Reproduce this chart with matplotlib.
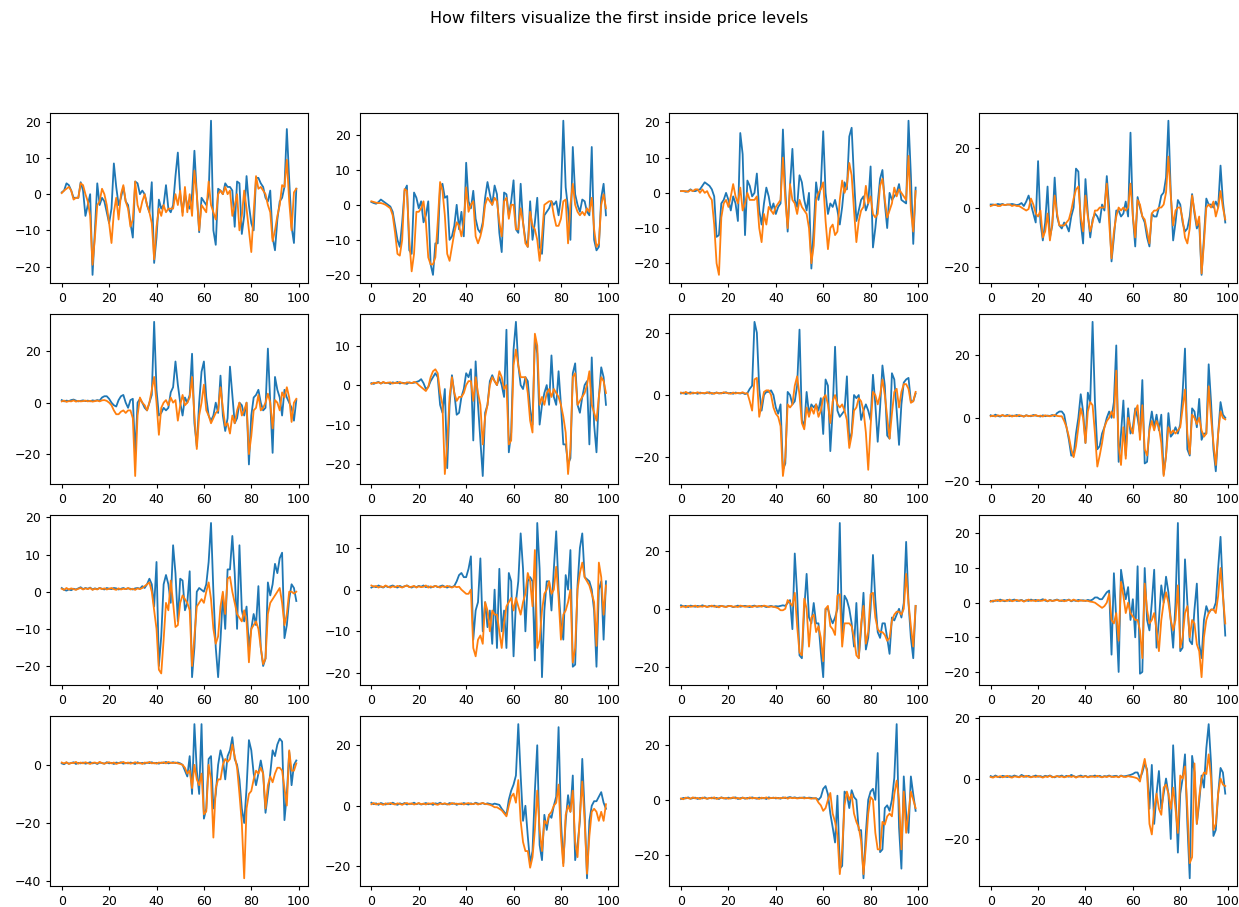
import numpy as np
import matplotlib
matplotlib.use("Agg")
import matplotlib.pyplot as plt
from matplotlib.ticker import MaxNLocator

title = "How filters visualize the first inside price levels"

# row 1
b01 = [0.5, 1, 3, 2.5, 1, -1, -1, -1, 3.3, 1,
       -6, -3, 0, -22.3, -10, 3, -3, -1, -2, -5,
       -8, -4, 8.5, 2, -3, -1, 2, -2, -3, -8,
       -12, 3.5, 3, 0, 1, 0, -3, -5, 3.3, -19,
       -12, -1.5, -4, -3, 2.5, -4, -5, -3, 5, 11.5,
       0, -5, 0, -3, -4, 0, 12, 0, -10.5, -1,
       -2, -3, 0, 20.3, -10, -14, 1.5, 1, 0, 3,
       2, 2, 1, -9, 3.5, 3, -11, -6, 5, -3,
       -8, -10, 4.5, 4.5, 3, 2, -1, -2, 1, -12,
       -15.5, -7, -2, -1, 2, 18, 4, -9, -13.5, 1.5]
o01 = [0.3, 1, 1.5, 2, 1, -1.5, -1, -1, 3, 2.5,
       0, -2, -6, -19.5, -12, -3, -2, 1.5, 0, -3,
       -8, -13.5, -5, -1, -7, 0, 2.5, -2, -4, -9,
       -7, 3.5, -3, -5, -2, 0, -3, -5, -8, -18,
       -9, -4, -6, -3, -5, -4, -4, -4, 0, -3,
       1, -6, 2, -5, 0, -6, 6.5, 0, -10, -3,
       -4, -5, 3.5, -3, -5, -7, 0, 1, 0, 2,
       0, 1, -6, -3, 0, -10, -6, 1, -4, -10,
       -16, -5, 5, 1.5, 2, 1, 0, -3, -5, -13,
       -10, -6, -3, 2.5, 2, 9.5, -2, -10, 0.5, 1.5]
b02 = [0.8, 0.5, 0.3, 0.8, 1.5, 1, 0.5, 0, -0.5, -2,
       -6, -10, -12, -5, 4, 5.5, -13, -14, 3.5, 2,
       -1, 1, -5, -3, 1, -17, -20, -11, -11, 5,
       6, 2, 2.5, -10, -9, -6, 0, -7, -2, -9,
       12, 1, -1, 4, -4, -7, -8, -5, 2, 6.5,
       3, 0, 5.5, 3, -8, -13.5, 3.5, 3, -3, 1,
       7, -7, -8, 6, -5, -10, -12, 1, -10, -5,
       2, -12, -14, -3, -2, -1, 1, 0, 1, -3,
       2, 24, 5, -1, -10, 16.5, 3, 0, -2, 1.5,
       1, -2, -3, 16.5, -10, -13, -12, 2, 6, -3]
o02 = [1, 0.8, 0.6, 0.5, 0.5, 0.3, 0, -0.5, -1, -3,
       -8, -14, -14.5, -10, 4.5, 4, -10, -19, -14, -2,
       -2, -1, 1, -5, -15, -17, -17, -15, -5, 6.5,
       4, -3, -14, -16, -12, -8, -5, -6, -9, -5,
       5, -2, 0, 1, -9, -11, -9, -6, 0, 2,
       1, 0, 2, 1, -5, -9, 1, 2, -4, 0,
       0, -7, -7, -1, -5, -11, -12, -2, -6, -7,
       -10, -16, -9, 0, 0.5, 1, 1, -3, -6, -6,
       -4, 1, 1.5, -11, 0, 6, 0, -2, -3, -2,
       -3, -1, -2, 2, -7, -12, -11, 0, 3, -1]
b03 = [0.5, 0.5, 0.3, 0.5, 1, 0.5, 0.5, 0.8, 1, 2,
       3, 2.5, 2, 1, -1, -12.5, -12, -3, -2, 0,
       -2, -5, -1, -3, -8, 17, 11, -12, 3.5, 2,
       -1, 0, 5.5, -5, -9, -3, 1.5, -1, -5, -3,
       -6, -4, -3, 18, 1, -11, 2, 12.5, -2, -4,
       5, 3, -2, -5, 0, -21.5, -10, 3, -2, 2,
       17.5, 0, -6, -3, -4, -2, -5, -9, -4, 3,
       1, 16, 18.5, 4, -8, -5, -2, -1, -5, -3,
       7.5, -15.5, -10, -3, 4, 6.5, -3, -10, 0, -2,
       -1, 0, 2.5, -2, -2.5, -3, 20.5, 5, -14.5, 1.5]
o03 = [0.5, 0.5, 0.5, 0.3, 0.8, 0.5, 1, 1, 0, 1,
       0, 0.5, -1, -2, -9, -20, -23.3, -7, -3, -2,
       -4, -1, 2.5, -1, -3, 1.5, -5, -3, 0, -2,
       -2, -2, -1, -10, -14, -6, -9, -4, -5, -6,
       -4, -3, -2, 10, -2, -10, 2.5, -2, -3, -6,
       -2, -4, -5, -6, -10, -20, -15, -2, 0, 1,
       3, -8, -16, -10, -9, -12, -11, -2, 3.5, 0,
       2, 8.5, 5, -5, -14, -8, -5, -4, 2, -3,
       -1, -6, -7, -6, 2, 4, -2, -7, -5, -3,
       1.5, -1, 1, 0, -1, -2, 10.5, -5, -11, 0.5]
b04 = [1, 1, 0.8, 1.2, 1, 1.2, 0.8, 1, 1, 1.2,
       1, 0.8, 1, 1.5, 0.5, 2, 4, 1, -2, -5,
       15.5, -5, -11, -5, 7, -10, -6, 10, -3, -6,
       -7, -5, -6, -8, -3, 0, 13, 12, -5, -12,
       9.5, -2, -10, -4, -2, -3, -5, 1, -1, 10.5,
       0, -18, -10, -1, -1, -3, -2, 2, -3, 25,
       -3, -13, 3.5, 0, -3, -5, -10, -13, -2, -3,
       -3, 0, 4, 5, 10, 29, 5, -11, -5, 2.5,
       1, -5, -8, -7, -3, 4.5, -2, -7, -5, -22.5,
       -10, 3, 1, 1, 0, 2, 0, 14, 2, -5]
o04 = [0.5, 0.8, 1, 0.5, 0.5, 1, 0.8, 1, 1, 0.5,
       0.8, 0.5, 0.5, 0, -0.5, -1, -0.5, 3, 1, -2,
       -3, -1, -10, -8, -2, -11, -5, 4, -2, -6,
       -6, -6, -5, -4, -1, 3, 6, 7, -3, -8,
       4, -3, -8, -5, -1, -1, 0, 0, 0, 8,
       -5, -17, -8, -3, 0, -1, 0, -1, 0, 8,
       -3, -10, 2.5, 1, -3, -4, -8, -12, -2, -1,
       -1, 0, 0, 1, 5, 17, 4, -6, -1, 0,
       0, -4, -10, -12, -7, 4, -1, -6, -3, -22,
       -12, 0, 1, 0, 2, -3, 0, 5.5, 0, -4]

# row 2
b05 = [1, 0.5, 0.8, 0.6, 1, 1.2, 0.8, 0.5, 0.7, 0.9,
       0.6, 0.8, 0.5, 0.9, 0.7, 1, 0.8, 2, 2.5, 2.5,
       1.5, 0, -1, -1.5, 1, 2.5, 3, 0, -2, 1,
       1.5, -20, 0, 1.5, 0, -2, -3, 0, 3, 31.4,
       5, -5, -4, -2, -3, -2, 4, 6, 16, 7,
       0, -5, 2, 0, 3, 19, -8, -17, 0, 12,
       16, 2, -5, -7, -5, 0, -4, 10.5, -5, -11,
       -6, 14, 3, -8, -6, 0, -1, -5, 0, -24,
       -5, 2, 3, 5, 0, -3, -2, 21, 0, -19.5,
       10, 5, 2, -5, 5, 2, 0, -2, -7, 1]
o05 = [0.5, 0.8, 0.3, 0.6, 0.5, 0.9, 0.4, 0.7, 0.5, 0.6,
       0.8, 0.5, 0.7, 0.4, 0.6, 0.8, 0.5, 0.9, 1, 0.7,
       0, -1, -3, -4.5, -4.5, -3.5, -3, -4, -3, -3,
       -6, -28.5, -5, 2, 0, -1, -3, 0, 5, 10,
       0, -12.5, -2, 0, 1, -1, 2, 0, 1, -7,
       -1, 3, -1, 0, 2, 10, -5, -18, -5, 0,
       7, -3, -5, -8, -6, -4, -3, 6, -2, -9,
       -8, -12, -5, -8, -3, 0, -5, -3, 0, -20,
       -13, -3, -2, 3, -3, -2, 0, 3.5, 0, -10,
       1, 0, -3, 4, 2, 6, 2, -7.5, 0, 1.5]
b06 = [0.5, 0.3, 0.6, 0.8, 0.4, 0.7, 0.5, 0.6, 0.3, 0.7,
       0.5, 0.8, 0.4, 0.6, 0.5, 0.3, 0.7, 0.5, 0.6, 0.8,
       1, 1.5, 0.5, -1, -0.5, 1, 2, 3, 2, -5,
       -7, -1, -21, -5, 2.5, -2, -7.5, -7, -3, -1,
       3, 2, 4, -14, 6, -5, -14, -23, -7, -5,
       1, 2.5, 1, 0, 2, 0, -3, 14, -17, -12,
       9, 16, 5, 0, -1, 2, 1, -6, -10, 12,
       8, -10, -5, -2, 0, -5, 7.5, -3, -5, 3.5,
       -5, -15, -15, -20, -18.5, 3, 5.5, -5, -7, -3,
       0, 1, -15, 7, -10, -17, -3, 4.5, 2, -5]
o06 = [0.3, 0.6, 0.5, 0.7, 0.4, 0.8, 0.5, 0.6, 0.7, 0.4,
       0.6, 0.5, 0.8, 0.5, 0.4, 0.7, 0.6, 0.5, 0.8, 0.6,
       0, -0.5, -1, -1.5, -0.5, 2, 3.5, 4, 3, -2,
       -5, -22.5, -15, -3, 2, -2, -4, -3, -3, -2,
       0, 1, 1, -4, 2, -2, -5, -15, -8, -5,
       0, 2, 1, 0, 3.5, 2, -1, 0, -15, -14,
       5, 9, 5, 2, 2, 2, -2, -9, -12, 13,
       10, -5, -3, -5, -2, -1, -3, -1, -2, -3,
       -5, -8, -12, -22.5, -16, 2, 3, -5, -4, -3,
       -2, 0, 3.5, -5, -7, -9, -3, 2, 1, -2]
b07 = [0.5, 0.8, 0.3, 0.6, 0.9, 0.5, 0.7, 0.4, 0.8, 0.6,
       0.5, 0.7, 0.9, 0.4, 0.6, 0.8, 0.5, 0.7, 0.6, 0.9,
       0.5, 0.7, 0.4, 0.8, 0.6, 0.5, 0.7, 0.3, 0.6, 2,
       3, 23.5, 20, 2, -5, 0, 1, 1, 1.5, 0,
       -4, -6, -3, -24, -22, 1, 0, -3, -2, 3,
       21, -8, -10, 1, -6, -3, -4, -3, -5, -1,
       -12.5, 5, 3, -18, -5, 15.5, -5, -7, -6, -5,
       6, -15, -12, 0, -1, 0, -8, -5, -3, -5,
       -8, 6.5, -3, -15, -4, 9.5, 3, -13, -14, 7,
       5, -5, -16, -3, 4, 5, 5.5, -2, -2, 0.5]
o07 = [0.8, 0.5, 1, 0.6, 0.4, 0.8, 0.6, 0.9, 0.5, 0.7,
       0.6, 0.9, 0.5, 0.7, 0.4, 0.8, 0.6, 0.5, 0.9, 0.7,
       0.6, 0.4, 0.8, 0.5, 0.7, 0.6, 0.9, 0.5, 0.6, -2,
       -5, 5, 5.5, -7, -3, 1, 1.5, 1.5, 0, -4,
       -6, -7, -10, -26, -20, -3, -4, -3, 3, 6,
       0, -9, -11, -4, -7, -4, -6, -3, -7, -5,
       -1, 0, -3, -9, -2, 0, -3, -4, -3, -5,
       -8, -17, -13, -5, -4, -1, -2, -5, -12, -24,
       -10, 1, 0, -3, 0, 5, 0, -7, -14, -6,
       1, 2, -4, 1, 3.5, 3.5, 2, -2.5, -2, 1]
b08 = [0.8, 0.5, 1, 0.6, 0.4, 0.8, 0.6, 0.9, 0.5, 0.7,
       0.6, 0.9, 0.5, 0.7, 0.4, 0.8, 0.6, 0.5, 0.9, 0.7,
       0.6, 0.4, 0.8, 0.5, 0.7, 0.6, 0.9, 0.5, 1.5, 2,
       2, 1, -3, -7, -12, -12, -5, 0, 7.5, 2,
       -8, 8, 5, 30.5, 5, -10, -9, -5, -3, 0,
       2, 0, 5, 23, -14, -5, 5.5, -12, 3, -5,
       -3, 3, 0, -5, 12, -14.5, -14, -3, 2, -3,
       1, -4, 1, -18, -12, 1.5, -6, -5, -3, -5,
       -2, 8, 22, -10, -12, 3, 2, -3, 6, -7,
       -5, -5, 17, 5, -10, -17, -5, 5, 1, 0]
o08 = [0.5, 0.7, 0.4, 0.8, 0.6, 0.9, 0.5, 0.6, 0.8, 0.4,
       0.7, 0.5, 0.9, 0.6, 0.4, 0.8, 0.5, 0.7, 0.6, 0.9,
       0.5, 0.7, 0.4, 0.8, 0.6, 0.5, 0.7, 0.9, 0.6, 0.5,
       0.5, -1, -3, -6, -10, -12.5, -9, -3, 3, 0,
       -8, 2, 5, 4, -5, -15.5, -12, -8, -3, -1,
       0, 2, 0, 15, -9, -15, -3, -13, 0, -3,
       -5, 2, 4, -7, 4, -10, -12, -4, -1, -4,
       -1, -3, -8, -18.5, -12, -3, -5, -4, -5, -4,
       -3, 3, 9, -5, -11.5, 1, 0, -2, 0, -4,
       -6, -5, 10, 0, -8, -15, -5, 2, 0, -0.5]

# row 3
b09 = [1, 0.5, 0.3, 0.6, 0.4, 0.8, 0.6, 0.9, 1.2, 0.7,
       1, 0.8, 1.1, 0.6, 0.9, 0.7, 1, 0.8, 0.6, 1,
       0.8, 0.7, 1, 0.9, 0.6, 0.8, 1, 0.7, 0.9, 0.8,
       0.6, 0.9, 1, 0.8, 1.5, 1, 2, 3.5, 2, -4,
       8, -20, -12, 2, 4.5, 2, -3, 12.5, 5, -8,
       3.5, 3, -5, -3, 5.5, -23, -15, 0, 1, 0.5,
       0, 2, 8, 18.5, 0, -15, -23, -13, -1, -10,
       6, 6, 15, 5, -10, 12.5, -5, -8, -4, -15,
       -10, -6, -9, 1.5, -15, -20, -18, 2.5, -1, 2,
       7.5, 5, 9, 10.5, -12.5, -9, -2, 2, 1, -2.5]
o09 = [0.8, 0.5, 1, 0.6, 0.9, 0.7, 0.5, 0.8, 1, 0.6,
       0.9, 0.7, 1, 0.5, 0.8, 0.6, 1, 0.7, 0.9, 0.6,
       0.8, 1, 0.7, 0.5, 0.9, 0.6, 0.8, 0.7, 1, 0.6,
       0.8, 0.5, 0.9, 0.7, 1, 1.5, 2, 2.5, 0, -5,
       -10, -21, -22, -13, -3, -5, 3, -3, -9.5, -9,
       -3, -1, -2, -3, -5, -20, -12, -4, -3, -2,
       -3, 0, 2.5, -2, -10, -14, -12, -4, 0, -6,
       3.5, 4, 0, -3, -6, -7, -8, -5, -8, -19,
       -10, -9, -8, -10, -15, -19.5, -18, -6, -3, -2,
       -1, 0, 1, -3, -9, -6, 0, 0, -0.5, 0]
b10 = [0.5, 0.8, 0.6, 1, 0.7, 0.5, 0.9, 0.6, 0.8, 1,
       0.7, 0.5, 0.9, 0.6, 0.8, 1, 0.7, 0.5, 0.8, 0.6,
       0.9, 0.7, 1, 0.6, 0.8, 0.5, 0.7, 0.9, 0.6, 0.8,
       1, 0.7, 0.5, 0.8, 0.6, 0.9, 2, 3.5, 4, 3,
       3, 5, 8, -12, -5, -3, 7.5, -10, -3, -9,
       -5, -13, 0, -14, 5, -10, -5, -14, 4, 2,
       -16, -3, 2, 13.5, 5, -10, 2, 3, 2, -17,
       16, 5, -21, -5, 2, 2, -5, 5, 14, 0,
       -8, -12, 3.5, 0, 9.5, -18.5, -18, 1, 10, 13.5,
       3, 2.5, 2, 0, -5, -18.5, 0, 2, -12, 2]
o10 = [1, 0.7, 0.9, 0.5, 0.8, 0.6, 1, 0.7, 0.5, 0.8,
       0.6, 0.9, 0.7, 0.5, 0.8, 1, 0.6, 0.7, 0.9, 0.5,
       0.8, 0.6, 0.7, 1, 0.5, 0.8, 0.6, 0.9, 0.7, 0.5,
       0.8, 0.6, 0.9, 0.7, 0.5, 0.8, 0.6, 0.7, 0, -0.5,
       -1, -1, 0, -14, -16, -12, -11, -13, -3, -5,
       -10, -5, -6, -6, -10, -14, -8, -4, -3, -2,
       -5, -2, -4, -6, -3, -1, 4, 2, -4, 9.5,
       -14, -12, -5, -1, 0, 2, -1, 0, 5.5, -2,
       -12, -6, -5, -3, 0, -17.5, -14, 0, 4, 6.5,
       3, 2, 1, -1, -3, -13.5, 6.5, 3, -6, 1]
b11 = [1.2, 0.8, 1, 0.6, 1.1, 0.9, 0.7, 1, 0.8, 1.2,
       0.9, 0.7, 1, 0.8, 1.1, 0.6, 0.9, 1, 0.8, 0.7,
       1, 0.9, 0.6, 0.8, 1.1, 0.7, 0.9, 1, 0.8, 0.6,
       0.9, 1.1, 0.7, 0.8, 1, 0.9, 0.6, 0.8, 1, 0.7,
       0.9, 0.8, 1, 1.2, 1, 2, 3, -7, 19, 5,
       -16, -17, 0, 12, -3, -5, 2, -5, -5, -15,
       -23.5, 0, 0, -3, -5, -3, 0, 29.5, -10, 4.5,
       3, 0, -5, -13, 2, -17, -7, 5.5, -14, -10,
       0, 18.5, 3, -8, -10, -5, -5, -10, -15.5, -3,
       -4, -2, 0, -3, 2, 23, 2, -10, -17, 1]
o11 = [0.6, 0.9, 0.5, 1, 0.7, 0.8, 1.1, 0.6, 0.9, 0.7,
       1, 0.6, 0.8, 1.1, 0.7, 0.9, 0.5, 1, 0.8, 0.6,
       0.9, 1, 0.7, 0.8, 0.6, 1.1, 0.9, 0.7, 0.8, 1,
       0.6, 0.9, 0.8, 1, 0.7, 1.1, 0.9, 0.6, 0.8, 0.7,
       0.5, 0.2, -0.5, -0.5, 0, 3, 2, 1, 5.5, -6,
       -15, -16, 3.5, 0, -13, -3, -2, -8, -6, -10,
       -18, 0, 1, -6, -7, -9, 4.5, 5, -13, -5,
       -5, -5, -6, -10, -16, -17, -5, 1, -12, -8,
       5, 5.5, -3, -7, -8, -8, -9, -11, -10, -4,
       -2, -1, -1, -2, 0, 12, 2, -6, -13, 1]
b12 = [0.5, 0.3, 0.7, 0.5, 0.9, 0.6, 0.4, 0.8, 0.5, 0.7,
       0.9, 0.5, 0.6, 0.8, 0.4, 0.7, 0.5, 0.9, 0.6, 0.8,
       0.5, 0.7, 1, 0.6, 0.4, 0.8, 0.5, 0.7, 0.9, 0.6,
       0.5, 0.8, 0.6, 0.9, 0.4, 0.7, 0.5, 0.8, 0.6, 0.7,
       0.5, 0.8, 0.6, 0.9, 1.5, 1.5, 1, 1, 2, 3,
       3.5, -15, 8.5, -5, -20, 9.5, 5, 1, 4.5, -5,
       1, -10, 10.5, -20.5, -20, 10, -5, -8, 0, 9.5,
       -13, -5, 5, 0, 7.5, 3, -5, -13, 0, 23,
       -14, -13, 12.5, 0, -11, -12, -2, 5.5, -12, -16,
       -5, -1, -3, -2, -2, 0, 10, 19, 3, -9.5]
o12 = [0.3, 0.6, 0.5, 0.8, 0.4, 0.7, 0.6, 0.5, 0.9, 0.4,
       0.6, 0.8, 0.5, 0.7, 0.3, 0.6, 0.9, 0.5, 0.7, 0.4,
       0.8, 0.5, 0.6, 0.9, 0.4, 0.7, 0.5, 0.6, 0.8, 0.5,
       0.7, 0.4, 0.6, 0.8, 0.5, 0.9, 0.6, 0.4, 0.7, 0.5,
       0.6, 0.5, 0.3, 0.2, 0, -0.5, -1, -1.5, -1, 0,
       2.5, -5, -6, -3, -11, 6, 2, -3, 0, -3,
       -4, -5, -5, -8, -16, 5.5, -2, -6, -5, -3,
       -8, -14, -5, 0, 3, 0, -5, -8, -5, 5,
       -13, -10, -3, -1, -10, -5, -6, -12, -14, -21.5,
       -10, -5, -3, -2, -2, -3, 2, 10, 2, -6]

# row 4
b13 = [0.5, 0.2, 0.8, 0.4, 0.6, 0.9, 0.3, 0.7, 0.5, 0.8,
       0.4, 0.6, 0.9, 0.5, 0.7, 0.3, 0.8, 0.6, 0.4, 0.9,
       0.5, 0.7, 0.3, 0.8, 0.6, 0.9, 0.4, 0.7, 0.5, 0.8,
       0.6, 0.3, 0.9, 0.5, 0.7, 0.4, 0.8, 0.6, 0.9, 0.5,
       0.7, 0.4, 0.8, 0.6, 1, 0.5, 0.7, 0.9, 0.6, 0.8,
       0.5, 0, -2, -4, 3, -10, 14, -2, -10, 14,
       -18.5, -15, 2, 3, -15, -10, 0, 5, 2, -5,
       3, 5, 9.5, 2, 0, -5, -15, -20, -8, 8.5,
       5, -3, -7, -3, 1.5, -3, -16.5, -10, -3, 5,
       3, 7, 9, 8, -19, -10, 4.5, -7, 0, 1.5]
o13 = [0.8, 0.5, 0.9, 0.3, 0.7, 0.6, 1, 0.4, 0.8, 0.5,
       0.9, 0.6, 0.3, 0.7, 0.8, 0.5, 1, 0.6, 0.4, 0.7,
       0.9, 0.5, 0.8, 0.3, 0.6, 0.7, 1, 0.5, 0.8, 0.4,
       0.6, 0.9, 0.5, 0.7, 0.3, 0.8, 0.6, 1, 0.5, 0.7,
       0.4, 0.8, 0.6, 0.9, 0.5, 1, 0.7, 0.6, 0.8, 0.5,
       0.3, 0, -1, -3, -2, -8, 0, -5, -7, -3,
       -17, -16, 0, -5, -25, -8, -5, -5, 0, 2,
       1, 2, 7, 3, -1, -10, -20, -39, -15, -10,
       -9, -5, -2, -3, -1, -3, -15, -7, -4, -6,
       -3, -1, -1, -2, -8, -14, 5, -2, -2, 0.5]
b14 = [1, 0.5, 0.8, 0.3, 0.9, 0.6, 0.4, 0.8, 0.5, 1,
       0.6, 0.3, 0.8, 0.5, 0.9, 0.4, 0.7, 0.6, 1, 0.5,
       0.8, 0.4, 0.6, 0.9, 0.5, 0.7, 0.3, 0.8, 0.6, 1,
       0.5, 0.7, 0.4, 0.9, 0.6, 0.8, 0.3, 0.7, 0.5, 0.9,
       0.6, 0.4, 0.8, 0.5, 1, 0.7, 0.6, 0.9, 0.5, 0.8,
       0.6, 0.4, 0.7, 0.5, 0.3, -1, -2, -3, 2, 5,
       7, 10, 27, 10, -5, 0, -10, -19, -15, 5,
       20, -13, -18, -3, -8, -3, -4, 0, 3, 26,
       -5, -19, -5, 3.5, -2, 10, -18, -13, -5, 15.5,
       -2, -24, -5, 0, 1.5, 1.5, 3, 4.5, 1, -1]
o14 = [0.5, 0.9, 0.4, 0.7, 0.6, 0.3, 0.8, 0.5, 0.9, 0.6,
       0.4, 0.8, 0.6, 0.3, 0.7, 0.9, 0.5, 0.8, 0.4, 0.6,
       0.9, 0.5, 0.7, 0.4, 0.8, 0.6, 0.9, 0.5, 0.3, 0.7,
       0.6, 0.8, 0.5, 0.4, 0.9, 0.6, 0.7, 0.5, 0.8, 0.4,
       0.7, 0.9, 0.5, 0.6, 0.8, 0.4, 0.7, 0.9, 0.6, 0.5,
       0.3, 0, -0.5, -0.5, -1, -1.5, -2.5, -3.5, 0, 3,
       4, 1, 8.5, -5, -12, -15, -15, -20.5, -17, -8,
       5, -8, -15, -5, -6, -3, -2, 0, 1, 7,
       -10, -20, -3, 0, -2, 5, -12, -17, -3, 8,
       -5, -22.5, -10, -2, -1, -2, -5, -2, -5, 0.5]
b15 = [0.3, 0.7, 0.5, 0.9, 0.4, 0.6, 0.8, 0.3, 0.7, 0.5,
       0.9, 0.4, 0.6, 0.8, 0.5, 0.7, 0.3, 0.9, 0.6, 0.4,
       0.8, 0.5, 0.7, 0.9, 0.3, 0.6, 0.8, 0.4, 0.7, 0.5,
       0.9, 0.6, 0.4, 0.8, 0.5, 0.7, 0.3, 0.9, 0.6, 0.8,
       0.5, 0.7, 0.4, 0.9, 0.6, 0.8, 1, 0.7, 0.9, 0.6,
       0.8, 0.7, 0.9, 0.6, 0.8, 0.7, 0.5, 0.6, 0, 1,
       4, 5, 2, -5, -10, -15.5, 1.5, -25, -24, 3,
       2, -3, 3.5, 1, 0, -11, -11, -28.5, -12, 0,
       3, 4, 0, 17, -19, -18, -3, -2, -4, 0,
       8, 27.5, -10, -25, 8.5, -5, -12, 8.5, 2, -4]
o15 = [0.5, 0.2, 0.8, 0.6, 0.4, 0.9, 0.5, 0.7, 0.3, 0.8,
       0.6, 0.4, 0.7, 0.5, 0.9, 0.3, 0.6, 0.8, 0.5, 0.7,
       0.4, 0.6, 0.9, 0.5, 0.7, 0.3, 0.8, 0.6, 0.4, 0.9,
       0.5, 0.7, 0.6, 0.3, 0.8, 0.5, 0.9, 0.4, 0.7, 0.6,
       0.8, 0.5, 0.7, 0.6, 0.9, 0.4, 0.8, 0.6, 0.7, 0.5,
       0.6, 0.8, 0.5, 0.7, 0.6, 0.4, 0.6, 0.5, -1, -2,
       -4, -3, 0, 2.5, -5, -8, -13, -27, -18, -2,
       3, 0, 2, -5, -8, -10, -15, -27, -17, -5,
       1, 0, -12, -18, -18, -8, -9, -6, -5, -6,
       2, 7, 0, -18, 3, -12, -5, 3, 0, -3]
b16 = [0.8, 0.5, 1, 0.6, 0.4, 0.9, 0.7, 0.5, 0.8, 0.6,
       1, 0.7, 0.5, 1.2, 0.8, 0.6, 0.9, 0.5, 0.7, 1,
       0.6, 0.8, 0.5, 0.9, 0.7, 1, 0.6, 0.4, 0.8, 0.7,
       1, 0.5, 0.9, 0.6, 1.2, 0.8, 0.5, 0.7, 1, 0.6,
       0.9, 0.5, 0.8, 0.7, 1, 0.6, 0.9, 0.5, 0.8, 0.7,
       1, 0.6, 0.8, 0.9, 0.5, 1, 0.7, 0.8, 1, 1.2,
       1.5, 2, 2, 0, 2, 5, 3, -10, 4.5, -15,
       -5, 2.5, -10, -5, 0, -5, -20, 11, -5, -24.5,
       -5, 0, 8, -15, -33, 7.5, 2, -15, -8, 1,
       -3, 10, 18, 5, -19, -17, -5, 3.5, 2, -5]
o16 = [0.5, 0.3, 0.7, 0.5, 0.8, 0.4, 0.6, 0.9, 0.5, 0.3,
       0.7, 0.6, 0.4, 0.8, 0.5, 0.9, 0.6, 0.4, 0.7, 0.5,
       0.8, 0.6, 0.3, 0.7, 0.5, 0.9, 0.4, 0.6, 0.8, 0.5,
       0.7, 0.4, 0.6, 0.9, 0.5, 0.8, 0.3, 0.7, 0.6, 0.5,
       0.8, 0.4, 0.6, 0.7, 0.5, 0.9, 0.6, 0.4, 0.7, 0.5,
       0.8, 0.6, 0.5, 0.7, 0.4, 0.9, 0.6, 0.5, 0.8, 0.6,
       0.5, 0.3, 0, -1, 3, 6.5, 2, -15, -18.5, -10,
       -5, -10, -12, -3, -2, -5, -10, -3, -10, -18,
       1, 0, 4, -10, -28, -26, 5, -15, -6, 0,
       2, 1.5, 8, 0, -17, -15, -5, 0, -2, -2.5]

blues = [b01, b02, b03, b04, b05, b06, b07, b08,
         b09, b10, b11, b12, b13, b14, b15, b16]
oranges = [o01, o02, o03, o04, o05, o06, o07, o08,
           o09, o10, o11, o12, o13, o14, o15, o16]

fig, axes = plt.subplots(4, 4, figsize=(12.39, 9.07), dpi=100)
fig.subplots_adjust(left=50/1239, right=1237/1239, top=1-113/907,
                    bottom=1-886/907, wspace=0.2, hspace=0.186)

for ax, b, o in zip(axes.flat, blues, oranges):
    ax.plot(np.arange(len(b)), b, color="C0", lw=1.3)
    ax.plot(np.arange(len(o)), o, color="C1", lw=1.3)
    ax.yaxis.set_major_locator(MaxNLocator(nbins=5, steps=[1, 2, 2.5, 5, 10]))
    ax.set_xticks([0, 20, 40, 60, 80, 100])
    ax.tick_params(labelsize=9, length=3)

fig.suptitle(title, fontsize=11.5, y=1-18/907, va="center")

fig.savefig("out.png", dpi=100)
